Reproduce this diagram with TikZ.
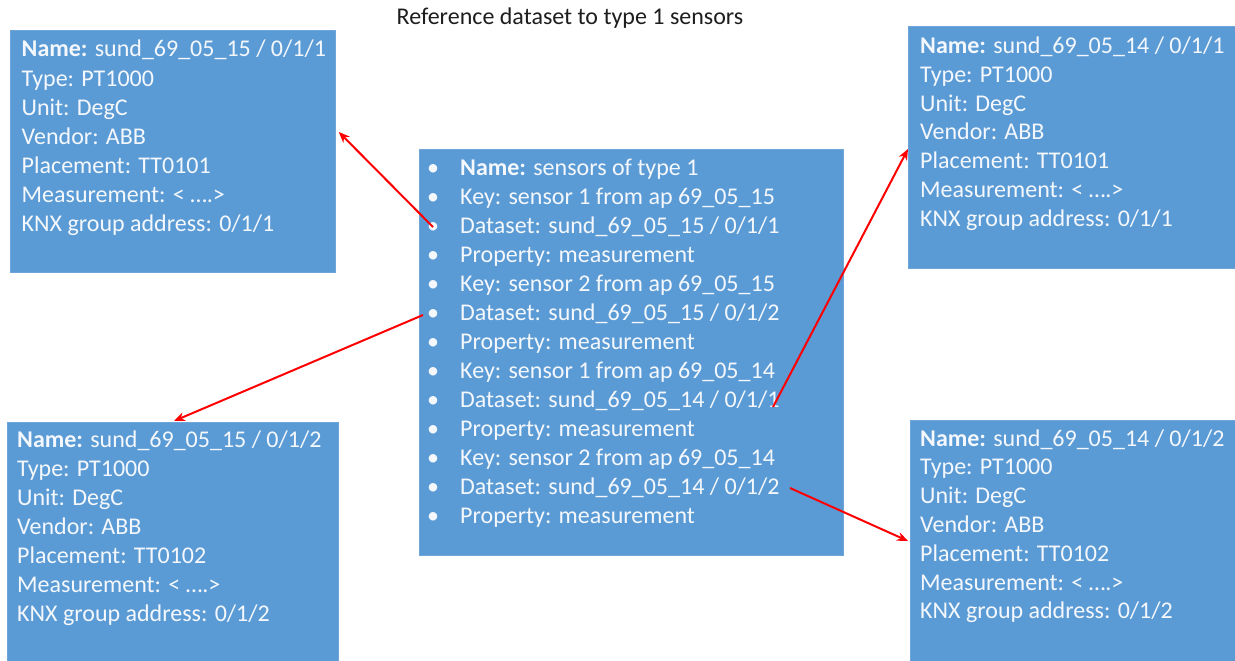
\documentclass[tikz,border=0pt]{standalone}
\usepackage{fontspec}
\setmainfont{Carlito}
\usetikzlibrary{calc,arrows.meta}
\definecolor{boxblue}{HTML}{5B9BD5}
\definecolor{boxedge}{HTML}{6FA6DA}
\definecolor{titlecol}{HTML}{1E1E1E}
\definecolor{txtwhite}{HTML}{F4F8FC}
\tikzset{
  box/.style={draw=boxedge, fill=boxblue, line width=0.8pt, inner sep=0pt, anchor=north west},
  txt/.style={text=txtwhite, font=\fontsize{24}{29}\selectfont, anchor=base west, inner sep=0pt},
  bul/.style={text=txtwhite, font=\fontsize{24}{29}\selectfont, anchor=base, inner sep=0pt},
  ttl/.style={text=titlecol, font=\fontsize{24}{29}\selectfont, anchor=base, inner sep=0pt},
  link/.style={draw=red, line width=2pt, -{Stealth[length=11pt,width=9pt]}},
}
\begin{document}
\begin{tikzpicture}[x=1pt,y=-1pt]
\clip (0,0) rectangle (1235,661);
\fill[white] (0,0) rectangle (1235,661);

\node[ttl] (title) at (570,25) {Reference dataset to type 1 sensors};

% boxes
\node[box, minimum width=325pt, minimum height=242pt] (tl) at (10,30) {};
\node[box, minimum width=340pt, minimum height=242pt] (tr) at (908,26) {};
\node[box, minimum width=331pt, minimum height=250pt] (bl) at (7,422) {};
\node[box, minimum width=340pt, minimum height=250pt] (br) at (910,420) {};
\node[box, minimum width=424pt, minimum height=406pt] (c) at (419,149) {};

% top-left text
\foreach \t [count=\i from 0] in {{\textbf{Name:} sund\_69\_05\_15 / 0/1/1},{Type: PT1000},{Unit: DegC},{Vendor: ABB},{Placement: TT0101},{Measurement: < ….>},{KNX group address: 0/1/1}}
  \node[txt] (tl\i) at (21.5,57+29*\i) {\t};
% top-right text
\foreach \t [count=\i from 0] in {{\textbf{Name:} sund\_69\_05\_14 / 0/1/1},{Type: PT1000},{Unit: DegC},{Vendor: ABB},{Placement: TT0101},{Measurement: < ….>},{KNX group address: 0/1/1}}
  \node[txt] (tr\i) at (920,53.5+28.8*\i) {\t};
% bottom-left text
\foreach \t [count=\i from 0] in {{\textbf{Name:} sund\_69\_05\_15 / 0/1/2},{Type: PT1000},{Unit: DegC},{Vendor: ABB},{Placement: TT0102},{Measurement: < ….>},{KNX group address: 0/1/2}}
  \node[txt] (bl\i) at (17,447+29*\i) {\t};
% bottom-right text
\foreach \t [count=\i from 0] in {{\textbf{Name:} sund\_69\_05\_14 / 0/1/2},{Type: PT1000},{Unit: DegC},{Vendor: ABB},{Placement: TT0102},{Measurement: < ….>},{KNX group address: 0/1/2}}
  \node[txt] (br\i) at (920,446+28.8*\i) {\t};
% centre text
\foreach \t [count=\i from 0] in {{\textbf{Name:} sensors of type 1},{Key: sensor 1 from ap 69\_05\_15},{Dataset: sund\_69\_05\_15 / 0/1/1},{Property: measurement},{Key: sensor 2 from ap 69\_05\_15},{Dataset: sund\_69\_05\_15 / 0/1/2},{Property: measurement},{Key: sensor 1 from ap 69\_05\_14},{Dataset: sund\_69\_05\_14 / 0/1/1},{Property: measurement},{Key: sensor 2 from ap 69\_05\_14},{Dataset: sund\_69\_05\_14 / 0/1/2},{Property: measurement}}
{
  \node[bul] (cb\i) at (433,175+29*\i) {•};
  \node[txt] (c\i) at (460,175+29*\i) {\t};
}

% connector start points inside the centre box
\coordinate (s1) at (433,227);
\coordinate (s2) at (423,315);
\coordinate (s3) at (773,407);
\coordinate (s4) at (790,488);

\draw[link] (s1) -- ($(tl.north east)+(3,102)$);
\draw[link] (s2) -- ($(bl.north west)+(167,-1)$);
\draw[link] (s3) -- ($(tr.north west)+(0,123)$);
\draw[link] (s4) -- ($(br.north west)+(-2,121)$);
\end{tikzpicture}
\end{document}
